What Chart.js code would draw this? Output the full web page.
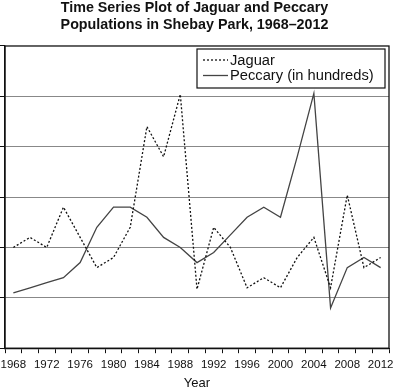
<!DOCTYPE html>
<html>
<head>
<meta charset="utf-8">
<script src="https://cdn.jsdelivr.net/npm/chart.js@4/dist/chart.umd.min.js"></script>
<style>
  html, body { margin: 0; padding: 0; background: #fff; }
  #wrap { width: 395px; height: 390px; }
</style>
</head>
<body>
<div id="wrap"><canvas id="chart"></canvas></div>
<script>
const years = [1968, 1970, 1972, 1974, 1976, 1978, 1980, 1982, 1984, 1986, 1988, 1990,
  1992, 1994, 1996, 1998, 2000, 2002, 2004, 2006, 2008, 2010, 2012];
const jaguar = [20, 22, 20, 28, 22, 16, 18, 24, 44, 38, 50.4, 11.7,
  24, 20, 12, 14, 12, 18, 22, 12, 30.4, 16, 18];
const peccary = [11, 12, 13, 14, 17, 24, 28, 28, 26, 22, 20, 17,
  19, 22.5, 26, 28, 26, 38, 50.6, 8, 16, 18, 16];
const seriesNames = ["Jaguar", "Peccary (in hundreds)"];
const titleLines = ["Time Series Plot of Jaguar and Peccary", "Populations in Shebay Park, 1968\u20132012"];

const toPoints = (vals) => vals.map((v, i) => ({ x: years[i], y: v }));

// frame around the plot + legend box inside the plot area
const framePlugin = {
  id: "frame",
  afterDatasetsDraw(chart) {
    const { ctx, chartArea: a } = chart;
    ctx.save();
    ctx.strokeStyle = "#111";
    ctx.lineWidth = 1.3;
    ctx.strokeRect(a.left, a.top, a.right - a.left, a.bottom - a.top);

    // legend
    const bx = 197, by = 49, bw = 188, bh = 39;
    ctx.fillStyle = "#fff";
    ctx.fillRect(bx, by, bw, bh);
    ctx.lineWidth = 1.2;
    ctx.strokeStyle = "#111";
    ctx.strokeRect(bx, by, bw, bh);
    ctx.font = "14.7px 'Liberation Sans', Arial, sans-serif";
    ctx.textBaseline = "middle";
    ctx.fillStyle = "#111";
    chart.data.datasets.forEach((ds, i) => {
      const y = by + 11 + i * 15.5;
      ctx.beginPath();
      ctx.setLineDash(ds.borderDash || []);
      ctx.strokeStyle = ds.borderColor;
      ctx.lineWidth = ds.borderWidth;
      ctx.moveTo(bx + 6, y);
      ctx.lineTo(bx + 31, y);
      ctx.stroke();
      ctx.setLineDash([]);
      ctx.fillText(ds.label, bx + 33, y + 0.5);
    });
    ctx.restore();
  }
};

new Chart(document.getElementById("chart"), {
  type: "line",
  data: {
    datasets: [
      {
        label: seriesNames[0],
        data: toPoints(jaguar),
        borderColor: "#111",
        borderWidth: 1.3,
        borderDash: [2, 2],
        pointRadius: 0,
        tension: 0,
        fill: false
      },
      {
        label: seriesNames[1],
        data: toPoints(peccary),
        borderColor: "#444",
        borderWidth: 1.3,
        pointRadius: 0,
        tension: 0,
        fill: false
      }
    ]
  },
  options: {
    responsive: true,
    maintainAspectRatio: false,
    animation: false,
    layout: { padding: { left: 0, right: 6, top: 0, bottom: 0 } },
    plugins: {
      legend: { display: false },
      tooltip: { enabled: false },
      title: {
        display: true,
        text: titleLines,
        color: "#111",
        font: { family: "'Liberation Sans', Arial, sans-serif", size: 14.3, weight: "bold", lineHeight: 1.15 },
        padding: { top: 0, bottom: 13.1 }
      }
    },
    scales: {
      x: {
        type: "linear",
        min: 1967,
        max: 2013,
        border: { display: true, color: "#111", width: 1.3 },
        grid: {
          drawOnChartArea: false,
          drawTicks: true,
          tickLength: 5,
          tickColor: (c) => (c.tick && c.tick.value % 2 !== 0 ? "#111" : "rgba(0,0,0,0)")
        },
        ticks: {
          stepSize: 1,
          autoSkip: false,
          maxRotation: 0,
          padding: 5,
          color: "#111",
          font: { family: "'Liberation Sans', Arial, sans-serif", size: 11.5 },
          callback: (v) => (v % 4 === 0 ? String(v) : "")
        },
        title: {
          display: true,
          text: "Year",
          color: "#111",
          font: { family: "'Liberation Sans', Arial, sans-serif", size: 13, lineHeight: 1 },
          padding: { top: 0, bottom: 0 }
        }
      },
      y: {
        min: 0,
        max: 60,
        border: { display: true, color: "#111", width: 1.3 },
        grid: {
          color: (c) => (c.tick && (c.tick.value === 0 || c.tick.value === 60) ? "rgba(0,0,0,0)" : "#888"),
          lineWidth: 1,
          tickLength: 5,
          tickColor: "#111"
        },
        ticks: { stepSize: 10, display: false }
      }
    }
  },
  plugins: [framePlugin]
});
</script>
</body>
</html>
